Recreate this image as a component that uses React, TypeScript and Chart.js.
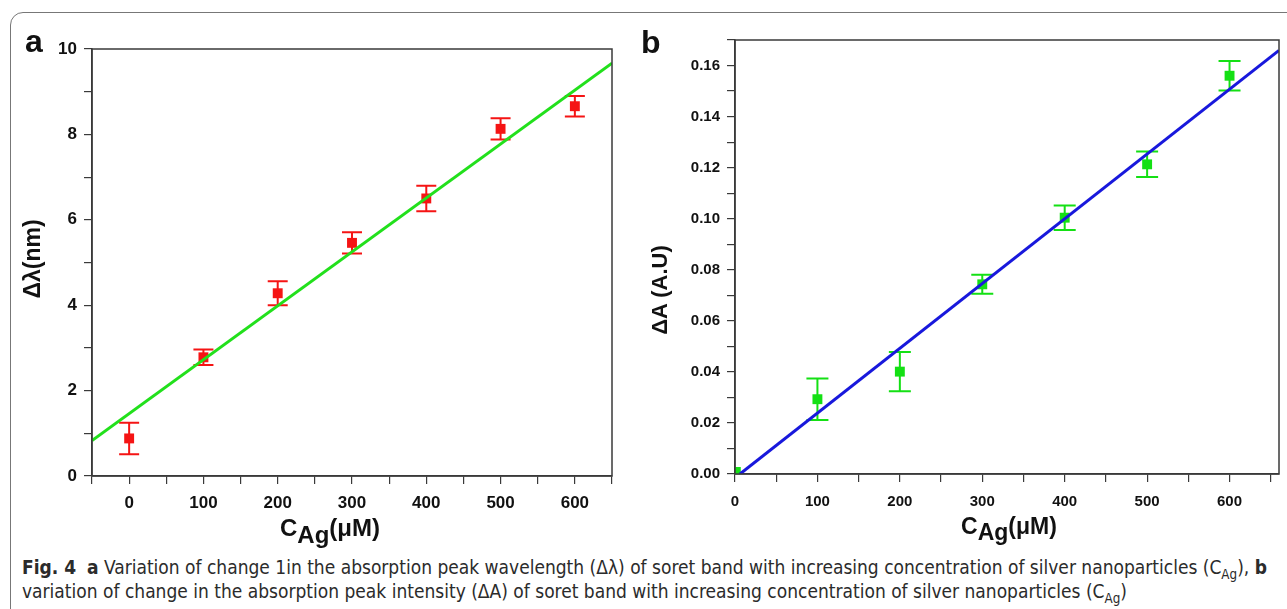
import React, { useEffect, useRef } from 'react';
import { Chart, registerables } from 'chart.js';

Chart.register(...registerables);

// ---------- data (panel a) ----------
const concA = [0, 100, 200, 300, 400, 500, 600];
const shiftA = [0.88, 2.78, 4.28, 5.46, 6.5, 8.13, 8.66];
const shiftErrA = [0.37, 0.18, 0.28, 0.25, 0.3, 0.25, 0.24];
const fitConcA = [-50, 650];
const fitShiftA = [0.83, 9.67];

// ---------- data (panel b) ----------
const concB = [1, 100, 200, 300, 400, 500, 600];
const absB = [0.0008, 0.0293, 0.0401, 0.0743, 0.1004, 0.1213, 0.156];
const absErrB = [0, 0.0081, 0.0077, 0.0037, 0.0048, 0.005, 0.0058];
const fitConcB = [6, 660];
const fitAbsB = [0, 0.1659];

const FONT = "'Liberation Sans', Arial, Helvetica, sans-serif";
const CAP_FONT = "'Liberation Sans Narrow', 'DejaVu Sans Condensed', 'Liberation Sans', sans-serif";
const AXIS = '#3a3a3a';

const errorBarPlugin = {
  id: 'errorBars',
  beforeDatasetsDraw(chart: any) {
    const { ctx, scales } = chart;
    const xs = scales.x;
    const ys = scales.y;
    chart.data.datasets.forEach((ds: any) => {
      if (!ds.errors) return;
      ctx.save();
      ctx.strokeStyle = ds.errorColor;
      ctx.lineWidth = ds.errorWidth;
      ds.data.forEach((p: any, i: number) => {
        const e = ds.errors[i];
        if (!e) return;
        const px = xs.getPixelForValue(p.x);
        const top = ys.getPixelForValue(p.y + e);
        const bot = ys.getPixelForValue(p.y - e);
        const h = ds.capWidth / 2;
        ctx.beginPath();
        ctx.moveTo(px, top);
        ctx.lineTo(px, bot);
        ctx.moveTo(px - h, top);
        ctx.lineTo(px + h, top);
        ctx.moveTo(px - h, bot);
        ctx.lineTo(px + h, bot);
        ctx.stroke();
      });
      ctx.restore();
    });
  },
};

const framePlugin = {
  id: 'frame',
  afterDraw(chart: any) {
    const { ctx, chartArea } = chart;
    ctx.save();
    ctx.strokeStyle = AXIS;
    ctx.lineWidth = 1.5;
    ctx.strokeRect(chartArea.left, chartArea.top, chartArea.right - chartArea.left, chartArea.bottom - chartArea.top);
    ctx.restore();
  },
};

function panelConfig(p: any) {
  return {
    type: 'scatter',
    data: {
      datasets: [
        {
          label: 'fit',
          data: p.fitX.map((x: number, i: number) => ({ x, y: p.fitY[i] })),
          showLine: true,
          borderColor: p.lineColor,
          borderWidth: 3,
          pointRadius: 0,
          order: 0,
        },
        {
          label: 'data',
          data: p.xs.map((x: number, i: number) => ({ x, y: p.ys[i] })),
          errors: p.errs,
          errorColor: p.markColor,
          errorWidth: 2,
          capWidth: p.capWidth,
          pointStyle: 'rect',
          pointRadius: 7,
          backgroundColor: p.markColor,
          borderColor: p.markColor,
          borderWidth: 0,
          showLine: false,
          order: 1,
        },
      ],
    },
    options: {
      animation: false,
      responsive: false,
      maintainAspectRatio: false,
      layout: { padding: p.padding },
      plugins: { legend: { display: false }, tooltip: { enabled: false } },
      scales: {
        x: {
          type: 'linear',
          min: p.xMin,
          max: p.xMax,
          afterFit: (s: any) => { s.height = 40; },
          ticks: {
            stepSize: 50,
            includeBounds: false,
            autoSkip: false,
            maxRotation: 0,
            padding: p.xPad,
            color: '#111',
            font: { family: FONT, size: p.tickSize, weight: 'bold' },
            callback: (v: number) => (Math.round(v) % 100 === 0 ? String(Math.round(v)) : ''),
          },
          grid: { drawOnChartArea: false, tickLength: 8, color: AXIS, lineWidth: 1.2 },
          border: { color: AXIS, width: 1.5 },
        },
        y: {
          type: 'linear',
          min: p.yMin,
          max: p.yMax,
          afterFit: (s: any) => { s.width = p.yWidth; },
          ticks: {
            stepSize: p.yStep,
            includeBounds: false,
            autoSkip: false,
            padding: p.yPad,
            color: '#111',
            font: { family: FONT, size: p.tickSize, weight: 'bold' },
            callback: p.yLabel,
          },
          grid: { drawOnChartArea: false, tickLength: 8, color: AXIS, lineWidth: 1.2 },
          border: { color: AXIS, width: 1.5 },
        },
      },
    },
    plugins: [errorBarPlugin, framePlugin],
  };
}

function ChartCanvas({ left, top, width, height, config }: any) {
  const ref = useRef<HTMLCanvasElement>(null);
  useEffect(() => {
    const chart = new Chart(ref.current as HTMLCanvasElement, config as any);
    return () => chart.destroy();
  }, []);
  return (
    <canvas
      ref={ref}
      width={width}
      height={height}
      style={{ position: 'absolute', left, top, width, height }}
    />
  );
}

const cfgA = panelConfig({
  xs: concA, ys: shiftA, errs: shiftErrA, fitX: fitConcA, fitY: fitShiftA,
  lineColor: '#22e01c', markColor: '#f51414', capWidth: 20,
  xMin: -50, xMax: 650, yMin: 0, yMax: 10, yStep: 1, yWidth: 92,
  padding: { top: 49, right: 28, bottom: 29, left: 0 },
  tickSize: 17, xPad: 9, yPad: 7,
  yLabel: (v: number) => (Math.round(v) % 2 === 0 ? String(Math.round(v)) : ''),
});

const cfgB = panelConfig({
  xs: concB, ys: absB, errs: absErrB, fitX: fitConcB, fitY: fitAbsB,
  lineColor: '#1818dc', markColor: '#14e014', capWidth: 22,
  xMin: 0, xMax: 660, yMin: 0, yMax: 0.17, yStep: 0.01, yWidth: 95,
  padding: { top: 40, right: 8, bottom: 31, left: 0 },
  tickSize: 15, xPad: 11, yPad: 7,
  yLabel: (v: number) => {
    const n = Math.round(v * 100);
    return n % 2 === 0 ? (n / 100).toFixed(2) : '';
  },
});

const titleStyle: any = {
  position: 'absolute',
  fontFamily: FONT,
  fontWeight: 'bold',
  color: '#111',
  whiteSpace: 'nowrap',
  lineHeight: 1,
};

const subStyle: any = { fontSize: '1em', verticalAlign: '-0.28em', lineHeight: 0 };
const capSub: any = { fontSize: '0.7em', verticalAlign: '-0.35em', lineHeight: 0 };

export default function App() {
  return (
    <div style={{ position: 'fixed', left: 0, top: 0, width: 1287, height: 609, overflow: 'hidden', background: '#fff' }}>
      <div
        style={{
          position: 'absolute', left: 10, top: 12, width: 1320, height: 660,
          border: '1.5px solid #777', borderRadius: 13, boxSizing: 'border-box',
        }}
      />
      <ChartCanvas left={0} top={0} width={640} height={545} config={cfgA} />
      <ChartCanvas left={640} top={0} width={647} height={545} config={cfgB} />

      <div style={{ ...titleStyle, left: 25, top: 25, fontSize: 32 }}>a</div>
      <div style={{ ...titleStyle, left: 641, top: 26, fontSize: 32 }}>b</div>

      <div style={{ ...titleStyle, left: 32, top: 259, fontSize: 23, transform: 'translate(-50%, -50%) rotate(-90deg)' }}>Δλ(nm)</div>
      <div style={{ ...titleStyle, left: 660, top: 290, fontSize: 22, transform: 'translate(-50%, -50%) rotate(-90deg)' }}>ΔA (A.U)</div>

      <div style={{ ...titleStyle, left: 330, top: 528, fontSize: 24, transform: 'translate(-50%, -50%)' }}>
        C<span style={subStyle}>Ag</span>(μM)
      </div>
      <div style={{ ...titleStyle, left: 1009, top: 526, fontSize: 23, transform: 'translate(-50%, -50%)' }}>
        C<span style={subStyle}>Ag</span>(μM)
      </div>

      <div style={{ position: 'absolute', left: 22, top: 555, fontFamily: CAP_FONT, fontSize: 19, lineHeight: '24px', color: '#2b2b2b', whiteSpace: 'nowrap' }}>
        <div>
          <b>Fig. 4</b>&nbsp; <b>a</b> Variation of change 1in the absorption peak wavelength (Δλ) of soret band with increasing concentration of silver nanoparticles (C<span style={capSub}>Ag</span>), <b>b</b>
        </div>
        <div>
          variation of change in the absorption peak intensity (ΔA) of soret band with increasing concentration of silver nanoparticles (C<span style={capSub}>Ag</span>)
        </div>
      </div>
    </div>
  );
}
